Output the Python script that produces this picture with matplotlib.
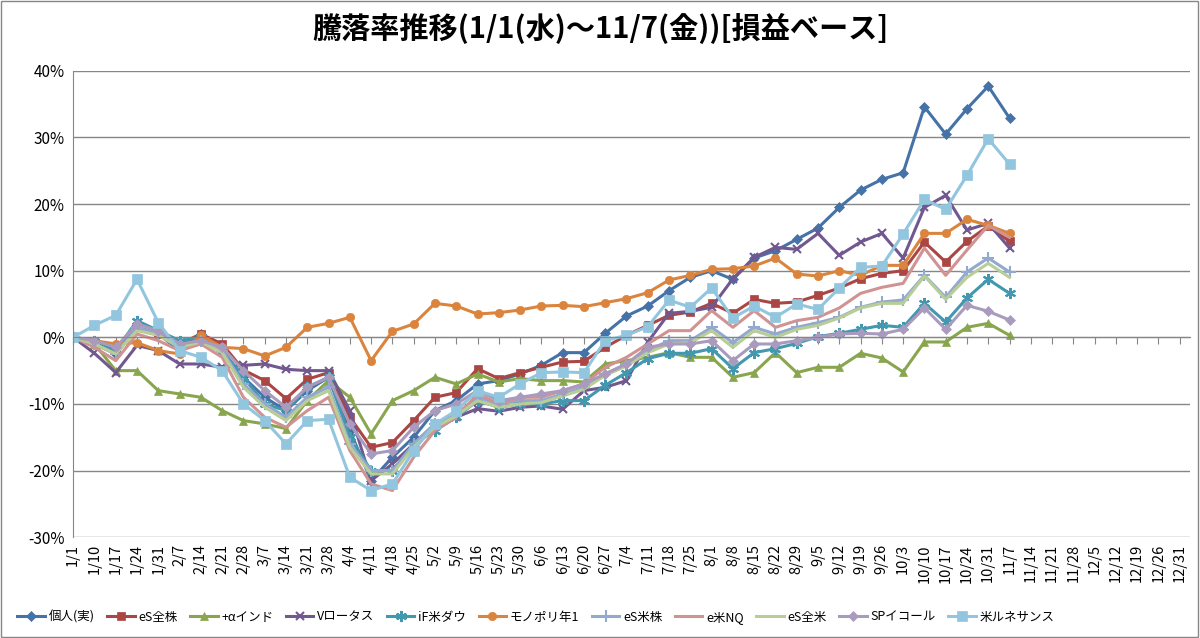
import numpy as np
import matplotlib
matplotlib.use("Agg")
import matplotlib.pyplot as plt
import matplotlib.transforms as mtrans

plt.rcParams['font.family'] = ['Noto Sans CJK JP', 'DejaVu Sans']

# weekly dates through year end (data up to 11/7)
dates = ["1/1", "1/10", "1/17", "1/24", "1/31", "2/7", "2/14", "2/21", "2/28", "3/7",
         "3/14", "3/21", "3/28", "4/4", "4/11", "4/18", "4/25", "5/2", "5/9", "5/16",
         "5/23", "5/30", "6/6", "6/13", "6/20", "6/27", "7/4", "7/11", "7/18", "7/25",
         "8/1", "8/8", "8/15", "8/22", "8/29", "9/5", "9/12", "9/19", "9/26", "10/3",
         "10/10", "10/17", "10/24", "10/31", "11/7", "11/14", "11/21", "11/28", "12/5",
         "12/12", "12/19", "12/26", "12/31"]

kojin = [0, -1, -2.5, 1.5, 0.5, -2, 0.5, -2, -6, -9,
         -11, -8, -6, -14, -21.5, -18, -15, -11, -9.5, -7,
         -6.5, -5.5, -4.2, -2.3, -2.3, 0.6, 3.2, 4.7, 7, 9,
         10, 8.7, 11.9, 13, 14.7, 16.4, 19.5, 22.1, 23.7, 24.7,
         34.6, 30.5, 34.3, 37.7, 32.9]
es_zenkabu = [0, -0.5, -2, 1.5, 0.5, -1, 0.5, -1, -4.9, -6.5,
              -9.2, -6.3, -5.3, -12, -16.5, -15.8, -12.5, -9, -8.3, -4.7,
              -6.2, -5.3, -4.5, -3.7, -3.6, -1.5, 0.3, 1.8, 3.3, 3.8,
              5.1, 3.6, 5.7, 5.1, 5.3, 6.3, 7.4, 8.8, 9.6, 10,
              14.3, 11.3, 14.4, 16.7, 14.4]
alpha_india = [0, -1, -5, -5, -8, -8.5, -9, -11, -12.5, -13,
               -13.7, -9.5, -6.5, -9, -14.5, -9.5, -8, -6, -7, -5.5,
               -6.7, -6.2, -6.5, -6.5, -6.7, -4, -3.5, -3, -2.3, -3,
               -3, -6, -5.3, -2.3, -5.3, -4.5, -4.5, -2.4, -3.1, -5.2,
               -0.7, -0.7, 1.5, 2.1, 0.3]
v_lotus = [0, -2.4, -5.3, -1.2, -2, -4, -4, -4.5, -4.2, -4,
           -4.8, -5, -5, -11, -21.5, -19, -16, -13, -12, -10.7,
           -11.1, -10.5, -10.3, -10.8, -8, -7.5, -6.5, -0.7, 3.6, 3.9,
           4.5, 8.8, 12, 13.5, 13.2, 15.6, 12.3, 14.3, 15.6, 11.9,
           19.5, 21.3, 16.1, 17.1, 13.4]
if_dow = [0, -0.5, -2, 2.5, 1, -0.5, 0, -2, -6, -10,
          -11, -7.5, -6, -15, -20, -20, -16, -14, -12, -9.5,
          -10.5, -10, -10, -9.5, -9.5, -7.2, -5.3, -3.2, -2.4, -2.4,
          -1.7, -4.7, -2.3, -1.7, -0.9, 0.1, 0.6, 1.2, 1.8, 1.5,
          5.1, 2.3, 5.9, 8.7, 6.6]
monopoly = [0, -0.5, -1, -0.8, -2, -2.5, 0.3, -1.5, -1.7, -2.8,
            -1.5, 1.5, 2.1, 3, -3.5, 0.9, 2, 5.1, 4.7, 3.5,
            3.7, 4.1, 4.7, 4.8, 4.6, 5.2, 5.8, 6.7, 8.6, 9.3,
            10.2, 10.3, 10.7, 11.9, 9.5, 9.2, 10, 9.3, 10.8, 10.8,
            15.6, 15.6, 17.7, 16.8, 15.6]
es_beikabu = [0, -1, -2.5, 1.5, 0.5, -1.5, -0.5, -2, -7, -10,
              -12, -9, -7.5, -16, -20, -20, -16, -13, -11.5, -9,
              -10, -9.5, -9.5, -8.5, -7.5, -5.5, -4, -2, -0.5, -0.5,
              1.5, -0.8, 1.5, 0.5, 1.5, 2.2, 3, 4.5, 5.3, 5.6,
              9.3, 6, 9.8, 11.9, 9.8]
e_nq = [0, -1.5, -3.5, 0.5, -0.5, -2, -1, -3, -9, -12,
        -13.5, -11, -9, -17, -22, -23, -18, -14, -12, -8.5,
        -10, -9, -9, -8, -7, -4.5, -3, -1, 1, 1,
        4, 1.5, 4, 1.5, 2.5, 3, 4.4, 6.6, 7.5, 8.1,
        13.4, 9.3, 13.1, 16.8, 15]
es_zenbei = [0, -1, -2.5, 1, 0.3, -1.5, -0.7, -2.3, -7.5, -10.5,
             -12.5, -9.5, -8, -16.5, -20.5, -20.5, -16.5, -13.5, -11.8, -9.5,
             -10.5, -10, -9.8, -8.8, -7.8, -5.7, -4.3, -2.3, -1, -0.8,
             1, -1.5, 1, 0, 1.2, 1.8, 2.9, 4.4, 5.1, 5.1,
             9.2, 5.7, 9, 11.1, 9]
sp_equal = [0, -0.5, -1.5, 2, 1, -1, -0.5, -1.5, -5, -8,
            -10.5, -7.5, -6, -13, -17.5, -17, -13.5, -11, -10, -8,
            -9.5, -9, -8.5, -8, -7, -5.5, -4, -1.5, -1, -1,
            -0.5, -3.5, -1, -1, -0.5, 0, 0.5, 0.6, 0.5, 1.2,
            4.4, 1.2, 4.8, 3.9, 2.6]
renaissance = [0, 1.8, 3.3, 8.7, 2.2, -2, -3, -5, -10, -12.5,
               -16, -12.5, -12.3, -21, -23, -22, -17, -13, -11, -8,
               -9, -7, -5.3, -5.2, -5.3, -0.5, 0.3, 1.6, 5.6, 4.5,
               7.4, 2.9, 4.7, 3, 5, 4.2, 7.4, 10.5, 10.7, 15.5,
               20.7, 19.2, 24.3, 29.8, 26]

series = [
    ("個人(実)", kojin, "#4572A7", "D", 5),
    ("eS全株", es_zenkabu, "#AA4643", "s", 6),
    ("+αインド", alpha_india, "#89A54E", "^", 6),
    ("Vロータス", v_lotus, "#71588F", "x", 6),
    ("iF米ダウ", if_dow, "#4198AF", (6, 2, 0), 8),
    ("モノポリ年1", monopoly, "#DB843D", "o", 6),
    ("eS米株", es_beikabu, "#93A9CF", "+", 8),
    ("e米NQ", e_nq, "#D19392", None, 0),
    ("eS全米", es_zenbei, "#B9CD96", None, 0),
    ("SPイコール", sp_equal, "#A99BBD", "D", 5),
    ("米ルネサンス", renaissance, "#92C5DE", "s", 7),
]

fig = plt.figure(figsize=(12, 6.38), dpi=100)
ax = fig.add_axes([0.061, 0.158, 0.931, 0.731])

for name, vals, col, mk, ms in series:
    x = np.arange(len(vals))
    ax.plot(x, vals, color=col, lw=2.2, marker=mk, markersize=ms,
            markeredgewidth=1.5 if mk in ("x", "+", (6, 2, 0)) else 0.5,
            markeredgecolor=col, label=name)

ax.set_xlim(0, len(dates) - 0.5)
ax.set_ylim(-30, 40)
ax.set_yticks(np.arange(-30, 41, 10))
ax.set_yticklabels(["%d%%" % v for v in range(-30, 41, 10)], fontsize=11)
ax.yaxis.grid(True, color="#868686", lw=1)
ax.set_axisbelow(True)
ax.tick_params(axis="y", length=0, pad=6)

# category axis crosses at 0, labels stay at the bottom
ax.spines["bottom"].set_position(("data", 0))
ax.spines["bottom"].set_color("#868686")
ax.spines["left"].set_color("#868686")
ax.spines["top"].set_visible(False)
ax.spines["right"].set_visible(False)
ax.set_xticks(np.arange(len(dates)))
ax.tick_params(axis="x", direction="out", length=5, color="#868686", labelbottom=False)
trans = mtrans.blended_transform_factory(ax.transData, ax.transAxes)
for i, d in enumerate(dates):
    ax.text(i, -0.015, d, rotation=90, ha="center", va="top", fontsize=10.5,
            transform=trans)

fig.suptitle("騰落率推移(1/1(水)～11/7(金))[損益ベース]", fontsize=21,
             fontweight="bold", y=0.98)
fig.legend(loc="lower left", bbox_to_anchor=(0.005, 0.005), ncol=11, frameon=False,
           fontsize=9, handlelength=2.2, columnspacing=1.0, handletextpad=0.3)

fig.patches.append(plt.Rectangle((0.001, 0.002), 0.997, 0.996, transform=fig.transFigure,
                                 fill=False, edgecolor="#868686", lw=1))
fig.savefig("out.png", dpi=100)
